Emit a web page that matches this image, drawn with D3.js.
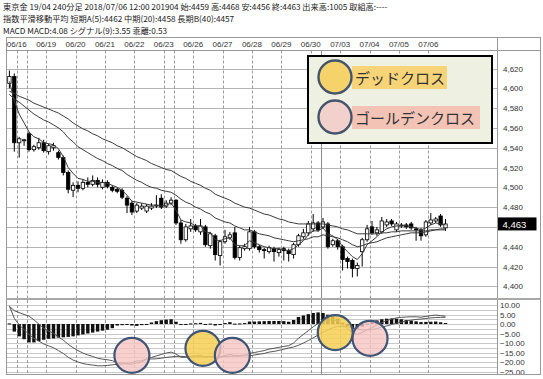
<!DOCTYPE html>
<html><head><meta charset="utf-8">
<script src="https://cdnjs.cloudflare.com/ajax/libs/d3/7.8.5/d3.min.js"></script>
<style>
html,body{margin:0;padding:0;background:#fff;}
svg{display:block;}
</style></head><body>
<svg id="c" width="543" height="379"></svg>
<script>
// ---------- data ----------
const headerLines = [
  "東京金 19/04 240分足 2018/07/06 12:00 201904 始:4459 高:4468 安:4456 終:4463 出来高:1005 取組高:----",
  "指数平滑移動平均 短期A(5):4462 中期(20):4458 長期B(40):4457",
  "MACD MACD:4.08 シグナル(9):3.55 乖離:0.53"
];
const dates = ["06/16","06/19","06/20","06/21","06/22","06/23","06/26","06/27","06/28","06/29","06/30","07/03","07/04","07/05","07/06"];
const open  = [4605,4612,4545,4548,4554,4538,4540,4545,4536,4540,4535,4530,4515,4497,4502,4499,4505,4503,4507,4500,4505,4500,4498,4497,4489,4484,4476,4479,4476,4479,4481,4489,4481,4484,4487,4464,4447,4458,4461,4455,4460,4441,4451,4431,4445,4449,4454,4429,4438,4438,4455,4440,4437,4435,4438,4434,4438,4436,4432,4442,4450,4454,4458,4464,4460,4463,4442,4446,4440,4428,4426,4418,4435,4447,4460,4454,4455,4462,4466,4457,4461,4462,4463,4458,4457,4452,4464,4466,4471,4459];
const high  = [4618,4615,4551,4549,4556,4543,4550,4548,4544,4545,4537,4532,4517,4505,4506,4508,4510,4512,4510,4508,4507,4502,4500,4499,4491,4486,4484,4484,4483,4484,4492,4493,4487,4490,4488,4467,4463,4468,4463,4468,4462,4455,4453,4447,4457,4455,4460,4441,4443,4460,4457,4442,4439,4441,4440,4439,4440,4438,4444,4453,4458,4466,4473,4466,4469,4465,4448,4448,4442,4430,4428,4424,4449,4462,4466,4460,4470,4468,4468,4465,4464,4464,4465,4460,4459,4467,4474,4470,4473,4468];
const low   = [4600,4536,4530,4542,4536,4536,4538,4535,4533,4537,4528,4512,4494,4490,4495,4497,4500,4501,4500,4498,4499,4495,4494,4488,4474,4472,4474,4477,4474,4477,4479,4478,4479,4482,4462,4443,4445,4455,4455,4452,4440,4438,4426,4421,4443,4447,4427,4426,4436,4436,4438,4434,4428,4433,4425,4430,4426,4425,4428,4440,4448,4451,4455,4455,4458,4438,4440,4437,4416,4418,4409,4410,4420,4445,4452,4451,4453,4460,4461,4455,4459,4458,4457,4446,4446,4450,4462,4464,4460,4456];
const close = [4612,4545,4549,4548,4538,4541,4545,4537,4542,4542,4530,4515,4498,4502,4499,4505,4503,4507,4503,4505,4501,4497,4496,4490,4482,4475,4482,4481,4481,4481,4482,4480,4484,4487,4464,4447,4460,4461,4457,4461,4442,4453,4432,4445,4450,4452,4429,4439,4440,4455,4440,4437,4436,4439,4435,4437,4436,4433,4442,4451,4454,4463,4464,4457,4465,4440,4446,4440,4427,4425,4418,4421,4447,4458,4454,4457,4466,4465,4463,4463,4462,4460,4459,4457,4451,4465,4467,4468,4462,4463];
const maShort = [4607,4587,4574,4565,4556,4551,4549,4545,4544,4543,4539,4531,4520,4514,4509,4508,4506,4506,4505,4505,4504,4502,4500,4497,4492,4486,4485,4484,4483,4482,4482,4481,4482,4484,4477,4467,4465,4464,4461,4461,4455,4454,4447,4446,4448,4449,4442,4441,4441,4446,4444,4442,4440,4439,4438,4438,4437,4436,4438,4442,4446,4452,4456,4456,4459,4453,4451,4447,4440,4435,4430,4427,4433,4442,4446,4450,4455,4458,4460,4461,4461,4461,4460,4459,4457,4459,4462,4464,4463,4462];
const maMid = [4594,4589,4586,4582,4578,4574,4571,4568,4566,4563,4560,4556,4550,4546,4541,4538,4535,4532,4529,4527,4524,4522,4519,4517,4513,4510,4507,4505,4502,4500,4499,4497,4496,4495,4492,4488,4485,4483,4480,4478,4475,4473,4469,4467,4465,4464,4461,4459,4457,4457,4455,4453,4452,4451,4449,4448,4447,4446,4445,4446,4447,4448,4450,4450,4452,4451,4450,4449,4447,4445,4442,4440,4441,4443,4444,4445,4447,4449,4450,4451,4452,4453,4454,4454,4454,4455,4456,4457,4458,4458];
const maLong = [4597,4595,4592,4590,4588,4585,4583,4581,4579,4577,4575,4572,4569,4565,4562,4559,4557,4554,4552,4549,4547,4545,4542,4540,4537,4534,4531,4529,4527,4524,4522,4520,4518,4517,4514,4511,4509,4506,4504,4502,4499,4497,4493,4491,4489,4487,4484,4482,4480,4479,4477,4475,4473,4472,4470,4468,4467,4465,4464,4463,4463,4463,4463,4463,4463,4462,4461,4460,4458,4457,4455,4453,4453,4453,4453,4453,4454,4454,4455,4455,4456,4456,4456,4456,4456,4456,4457,4457,4457,4457];
const macd = [9.5,3,-0.5,-3,-5.5,-7.5,-9,-10.5,-11.5,-12.5,-14,-15.5,-17.5,-19,-20,-20.8,-21.3,-21.6,-22,-22,-21.8,-21.5,-21.2,-21,-21,-21.2,-20.5,-20,-18.5,-17.6,-16.8,-16,-15.3,-14.8,-15.8,-17.5,-17.5,-17,-16.9,-16.6,-17.5,-17,-18,-17.6,-16.6,-16,-16.7,-16.6,-16.3,-15.5,-15,-14.5,-14,-13.2,-12.8,-12.3,-11.8,-11.4,-10,-7.5,-5.5,-3.5,-1.5,0.3,1.5,1.8,2.2,1.5,-0.5,-2.5,-4.5,-5.5,-4.5,-3,-2,-0.5,0.8,1.8,2.6,3.2,3.5,3.7,3.8,3.8,3.6,4.0,4.4,4.7,4.4,4.08];
const signal = [9.2,7.0,6.0,5.0,4.2,2.2,0,-2.2,-3.7,-4.9,-6.8,-8.5,-10.7,-12.5,-14,-15.3,-16.3,-17.1,-18,-18.5,-18.8,-19.3,-20.4,-20.4,-20.7,-20.4,-19.5,-19.4,-18.3,-18.4,-18.3,-18,-17.6,-17.3,-17,-17,-17.2,-17.3,-17.3,-17.2,-17.2,-17.2,-17.2,-17.2,-17.1,-17,-16.9,-16.9,-16.8,-16.8,-16.3,-15.9,-15.5,-14.8,-14.4,-13.9,-13.3,-12.6,-12.1,-11.2,-10.0,-8.7,-7.3,-5.8,-4.3,-3.1,-2.0,-1.3,-1.2,-1.4,-2.0,-2.7,-3.1,-3.1,-2.9,-2.4,-1.7,-1.0,-0.3,0.4,1.0,1.6,2.0,2.4,2.6,2.9,3.2,3.4,3.5,3.55];
const hist = [0.3,-4,-6.5,-8,-9.7,-9.7,-9,-8.3,-7.8,-7.6,-7.2,-7,-6.8,-6.5,-6,-5.5,-5,-4.5,-4,-3.5,-3,-2.2,-0.8,-0.6,-0.3,-0.8,-1.0,-0.6,-0.2,0.8,1.5,2,2.3,2.5,1.2,-0.5,-0.3,0.3,0.4,0.6,-0.3,0.2,-0.8,-0.4,0.5,1.0,0.2,0.3,0.5,1.3,1.3,1.4,1.5,1.6,1.6,1.6,1.5,1.2,2.1,3.7,4.5,5.2,5.8,6.1,5.8,4.9,4.2,2.8,0.7,-1.1,-2.5,-2.8,-1.4,0.1,0.9,1.9,2.5,2.8,2.9,2.8,2.5,2.1,1.8,1.4,1.0,1.1,1.2,1.3,0.9,0.53];
const priceTicks = [4400,4420,4440,4460,4480,4500,4520,4540,4560,4580,4600,4620];
const macdTicks = [10,5,0,-5,-10,-15,-20,-25];
const lastPrice = 4463;
// crosses marked on the MACD panel: bar index + MACD value of centre
const deadCross = [{i:39.5,v:-12.8},{i:66.5,v:-4.5}];
const goldenCross = [{i:25,v:-16.5},{i:45.5,v:-16.5},{i:73.6,v:-7.6}];
const legendItems = [{label:"デッドクロス",kind:"dead"},{label:"ゴールデンクロス",kind:"golden"}];

// ---------- layout ----------
const svg = d3.select("#c");
const LEFT = 6.5, PR = 497.5, AXR = 540.5;
const TOP = 37.5, DATEB = 50.5, MAINB = 298, MT = 300, BOT = 374.5;
const N = close.length;
const x = d3.scaleLinear().domain([0, N-1]).range([9.4, 445.5]);
const y = d3.scaleLinear().domain([4400, 4620]).range([286.3, 68.5]);
const ym = d3.scaleLinear().domain([-25, 10]).range([371.5, 305]);
const FONT = "'Liberation Sans', Arial, sans-serif";
const JFONT = "'Noto Sans CJK JP', sans-serif";

const defs = svg.append("defs");
defs.append("clipPath").attr("id","cm").append("rect").attr("x",LEFT).attr("y",DATEB).attr("width",PR-LEFT).attr("height",MAINB-DATEB);
defs.append("clipPath").attr("id","cd").append("rect").attr("x",LEFT).attr("y",MT).attr("width",PR-LEFT).attr("height",BOT-MT);
defs.append("clipPath").attr("id","ca").append("rect").attr("x",PR).attr("y",MT).attr("width",AXR-PR).attr("height",BOT-MT);

// header
svg.selectAll("text.hdr").data(headerLines).join("text")
  .attr("class","hdr").attr("x",3).attr("y",(d,i)=>10+i*12)
  .attr("font-family",JFONT).attr("font-size",8.2).attr("fill","#222").text(d=>d);

// ---------- grids ----------
const grid = svg.append("g");
grid.selectAll("line.hm").data(priceTicks).join("line")
  .attr("x1",LEFT).attr("x2",PR).attr("y1",d=>Math.round(y(d))+0.5).attr("y2",d=>Math.round(y(d))+0.5)
  .attr("stroke","#b4b4b4").attr("stroke-width",1);
const macdGrid = d3.range(-25, 10.01, 2.5);
grid.selectAll("line.hd").data(macdGrid).join("line")
  .attr("x1",LEFT).attr("x2",PR).attr("y1",d=>Math.round(ym(d))+0.5).attr("y2",d=>Math.round(ym(d))+0.5)
  .attr("stroke","#c8c8c8").attr("stroke-width",1).attr("clip-path","url(#cd)");
const dayIdx = dates.map((d,k)=>1.5+6*k);
[[DATEB,MAINB],[MT,BOT]].forEach(([a,b])=>{
  grid.selectAll(null).data(dayIdx.concat([3.5,33.5])).join("line")
    .attr("x1",d=>Math.round(x(d))+0.5).attr("x2",d=>Math.round(x(d))+0.5)
    .attr("y1",a).attr("y2",b).attr("stroke","#9a9a9a").attr("stroke-dasharray","3,2");
  grid.selectAll(null).data([63.5]).join("line")
    .attr("x1",d=>Math.round(x(d))+0.5).attr("x2",d=>Math.round(x(d))+0.5)
    .attr("y1",a).attr("y2",b).attr("stroke","#8a8a8a");
});

svg.selectAll("text.dt").data(dates).join("text").attr("class","dt")
  .attr("x",(d,k)=>x(dayIdx[k])).attr("y",47).attr("text-anchor","middle")
  .attr("font-family",FONT).attr("font-size",8).attr("fill","#333").text(d=>d);

// ---------- main panel ----------
const gm = svg.append("g").attr("clip-path","url(#cm)");
const idx = d3.range(N);
const cw = 3.4;
gm.selectAll("line.wick").data(idx).join("line")
  .attr("x1",i=>x(i)).attr("x2",i=>x(i)).attr("y1",i=>y(high[i])).attr("y2",i=>y(low[i]))
  .attr("stroke","#000").attr("stroke-width",1);
gm.selectAll("rect.body").data(idx).join("rect")
  .attr("x",i=>x(i)-cw/2).attr("width",cw)
  .attr("y",i=>y(Math.max(open[i],close[i])))
  .attr("height",i=>Math.max(1,Math.abs(y(open[i])-y(close[i]))))
  .attr("fill",i=>close[i]>=open[i]?"#fff":"#000")
  .attr("stroke","#000").attr("stroke-width",0.8);
const lineP = arr => d3.line().x((d,i)=>x(i)).y(d=>y(d))(arr);
[maShort, maMid, maLong].forEach(a=>{
  gm.append("path").attr("d",lineP(a)).attr("fill","none").attr("stroke","#3a3a3a").attr("stroke-width",1);
});

// ---------- MACD panel ----------
const gd = svg.append("g").attr("clip-path","url(#cd)");
gd.selectAll("rect.h").data(idx).join("rect")
  .attr("x",i=>x(i)-cw/2).attr("width",cw)
  .attr("y",i=>Math.min(ym(0),ym(hist[i])))
  .attr("height",i=>Math.max(1,Math.abs(ym(hist[i])-ym(0))))
  .attr("fill","#111");
const lineM = arr => d3.line().x((d,i)=>x(i)).y(d=>ym(d))(arr);
[macd, signal].forEach(a=>{
  gd.append("path").attr("d",lineM(a)).attr("fill","none").attr("stroke","#555").attr("stroke-width",1);
});
const rr = 17.5;
gd.selectAll("circle.dc").data(deadCross).join("circle")
  .attr("cx",d=>x(d.i)).attr("cy",d=>ym(d.v)).attr("r",rr)
  .attr("fill","#F6CF55").attr("fill-opacity",0.85).attr("stroke","#3F5576").attr("stroke-width",2.2);
gd.selectAll("circle.gc").data(goldenCross).join("circle")
  .attr("cx",d=>x(d.i)).attr("cy",d=>ym(d.v)).attr("r",rr)
  .attr("fill","#F6C6C2").attr("fill-opacity",0.8).attr("stroke","#3F5576").attr("stroke-width",2.2);

// ---------- right axis ----------
svg.selectAll("text.pt").data(priceTicks.filter(d=>Math.abs(d-lastPrice)>8)).join("text").attr("class","pt")
  .attr("x",503).attr("y",d=>y(d)+3).attr("font-family",FONT).attr("font-size",8)
  .attr("fill","#333").text(d=>d3.format(",")(d));
const ga = svg.append("g").attr("clip-path","url(#ca)");
ga.selectAll("text").data(macdTicks).join("text")
  .attr("x",500).attr("y",d=>ym(d)+3).attr("font-family",FONT).attr("font-size",8)
  .attr("fill","#333").text(d=>d3.format(".2f")(d));
svg.append("rect").attr("x",PR).attr("y",y(lastPrice)-6.5).attr("width",39).attr("height",13).attr("fill","#000");
svg.append("text").attr("x",PR+5).attr("y",y(lastPrice)+4).attr("font-family",FONT).attr("font-size",9.5)
  .attr("fill","#fff").text(d3.format(",")(lastPrice));

// ---------- frame ----------
const fr = svg.append("g").attr("fill","none");
fr.append("rect").attr("x",LEFT).attr("y",TOP).attr("width",AXR-LEFT).attr("height",BOT-TOP).attr("stroke","#999");
fr.append("line").attr("x1",PR).attr("x2",PR).attr("y1",TOP).attr("y2",BOT).attr("stroke","#999");
fr.append("line").attr("x1",LEFT).attr("x2",AXR).attr("y1",DATEB).attr("y2",DATEB).attr("stroke","#999");
fr.append("line").attr("x1",LEFT).attr("x2",AXR).attr("y1",299).attr("y2",299).attr("stroke","#a8a8a8").attr("stroke-width",2);

// ---------- legend ----------
const lg = svg.append("g");
lg.append("rect").attr("x",308).attr("y",56).attr("width",184).attr("height",87)
  .attr("fill","#EEF0E2").attr("stroke","#000").attr("stroke-width",2);
const ly = [77, 117];
const bands = [{w:95,fill:"#F6D477"},{w:128,fill:"#F3C3B6"}];
legendItems.forEach((it,k)=>{
  lg.append("rect").attr("x",352).attr("y",ly[k]-11).attr("width",bands[k].w).attr("height",23).attr("fill",bands[k].fill);
  lg.append("text").attr("x",355).attr("y",ly[k]+7).attr("font-family",JFONT).attr("font-size",15)
    .attr("fill","#333").text(it.label);
  lg.append("circle").attr("cx",335).attr("cy",ly[k]).attr("r",16.5)
    .attr("fill",it.kind==="dead"?"#F6D36A":"#F2D1CC").attr("stroke","#44546A").attr("stroke-width",2.4);
});
</script>
</body></html>
